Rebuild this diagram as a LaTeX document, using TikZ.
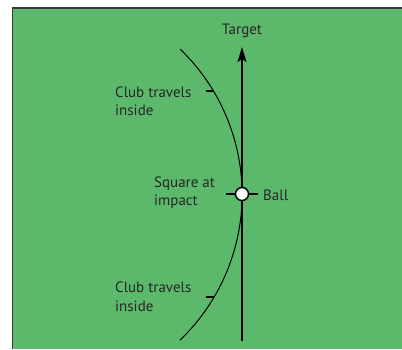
\documentclass[tikz,border=0pt]{standalone}
\usepackage{fontspec}
\setmainfont{PT Sans}
\usepackage{tikz}
\usetikzlibrary{arrows.meta,positioning}
\definecolor{fieldgreen}{HTML}{5CB96B}
\definecolor{edgegray}{HTML}{3A3A3A}
\definecolor{labelgray}{HTML}{262626}

\tikzset{
    lbl/.style={labelgray, font=\fontsize{15}{18.5}\selectfont, align=left, inner sep=0pt},
    ticks/.style={black, line width=1.6pt}
}

\begin{document}
\begin{tikzpicture}[x=1pt,y=-1pt]
    \useasboundingbox (0,0) rectangle (402,349);
    \fill[fieldgreen] (12.5,8) rectangle (402,349);
    \draw[edgegray, line width=1.2pt] (402,8) -- (12.5,8) -- (12.5,349);

    \coordinate (ARCTOP) at (180,49);
    \coordinate (LINEBOT) at (242,341);
    \coordinate (LINETOP) at (242,47);
    \coordinate (UTICK) at (214,91);
    \coordinate (LTICK) at (214,297);

    % swing path of the club head
    \draw[black, line width=1pt] (ARCTOP) arc[start angle=-46.2, end angle=46.2, radius=201.7];

    % target line
    \draw[-{Stealth[length=15pt,width=9pt,inset=3pt]}, line width=1.8pt] (LINEBOT) -- (LINETOP);
    \node[lbl, anchor=base] (target) at (242,34) {Target};

    \draw[ticks] (UTICK) -- ++(-8,0);
    \draw[ticks] (LTICK) -- ++(-8,0);
    \node[lbl, anchor=west] (upper) at (115,101) {Club travels\\inside};
    \node[lbl, anchor=west] (lower) at (115,296.5) {Club travels\\inside};

    \node[draw, circle, fill=white, line width=1.4pt, minimum size=13pt, inner sep=0pt] (ball) at (242,194) {};
    \draw[ticks] (ball.west) -- ++(-9,0);
    \draw[ticks] (ball.east) -- ++(9,0);
    \node[lbl, anchor=west] (balltxt) at (263,195) {Ball};
    \node[lbl, anchor=west] (square) at (154,192.5) {Square at\\impact};
\end{tikzpicture}
\end{document}
